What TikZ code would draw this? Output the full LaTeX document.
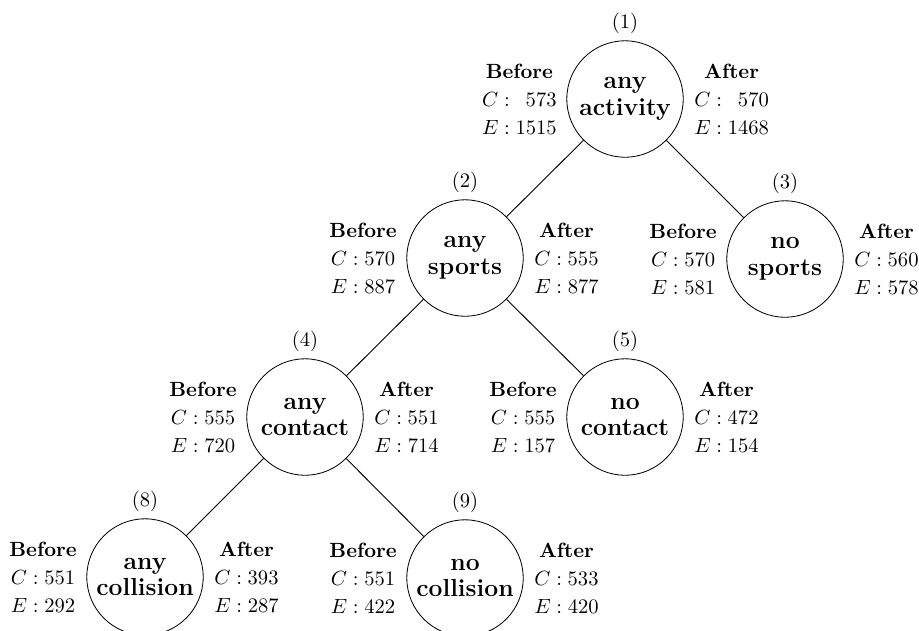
\documentclass[tikz,border=0pt]{standalone}
\begin{document}
\begin{tikzpicture}[x=0.4862pt,y=-0.4862pt,
  tnode/.style={circle,draw,minimum size=56.6pt,inner sep=0pt,align=center,
    font=\fontsize{12}{13}\selectfont\bfseries},
  numlabel/.style={anchor=south,inner sep=0pt,yshift=3pt},
  beforebox/.style={anchor=east,inner sep=0pt,align=center,
    font=\fontsize{10}{13.6}\selectfont,xshift=-4.5pt,yshift=0pt},
  afterbox/.style={anchor=west,inner sep=0pt,align=center,
    font=\fontsize{10}{13.6}\selectfont,xshift=5pt,yshift=0pt},
  treeline/.style={line width=0.45pt}]
\useasboundingbox (0,0) rectangle (919,630);

\node[tnode] (n1) at (625,99) {any\\activity};
\node[tnode] (n2) at (465,258) {any\\sports};
\node[tnode] (n3) at (785,259) {no\\sports};
\node[tnode] (n4) at (305,417) {any\\contact};
\node[tnode] (n5) at (625,417) {no\\contact};
\node[tnode] (n8) at (145,577) {any\\collision};
\node[tnode] (n9) at (465,578) {no\\collision};

\node[numlabel] (l1) at (n1.north) {(1)};
\node[numlabel] (l2) at (n2.north) {(2)};
\node[numlabel] (l3) at (n3.north) {(3)};
\node[numlabel] (l4) at (n4.north) {(4)};
\node[numlabel] (l5) at (n5.north) {(5)};
\node[numlabel] (l8) at (n8.north) {(8)};
\node[numlabel] (l9) at (n9.north) {(9)};

\node[beforebox] (b1) at (n1.west) {\textbf{Before}\\$C:\phantom{0}573$\\$E:1515$};
\node[afterbox]  (a1) at (n1.east) {\textbf{After}\\$C:\phantom{0}570$\\$E:1468$};
\node[beforebox] (b2) at (n2.west) {\textbf{Before}\\$C:570$\\$E:887$};
\node[afterbox]  (a2) at (n2.east) {\textbf{After}\\$C:555$\\$E:877$};
\node[beforebox] (b3) at (n3.west) {\textbf{Before}\\$C:570$\\$E:581$};
\node[afterbox]  (a3) at (n3.east) {\textbf{After}\\$C:560$\\$E:578$};
\node[beforebox] (b4) at (n4.west) {\textbf{Before}\\$C:555$\\$E:720$};
\node[afterbox]  (a4) at (n4.east) {\textbf{After}\\$C:551$\\$E:714$};
\node[beforebox] (b5) at (n5.west) {\textbf{Before}\\$C:555$\\$E:157$};
\node[afterbox]  (a5) at (n5.east) {\textbf{After}\\$C:472$\\$E:154$};
\node[beforebox] (b8) at (n8.west) {\textbf{Before}\\$C:551$\\$E:292$};
\node[afterbox]  (a8) at (n8.east) {\textbf{After}\\$C:393$\\$E:287$};
\node[beforebox] (b9) at (n9.west) {\textbf{Before}\\$C:551$\\$E:422$};
\node[afterbox]  (a9) at (n9.east) {\textbf{After}\\$C:533$\\$E:420$};

\draw[treeline] (n1) -- (n2);
\draw[treeline] (n1) -- (n3);
\draw[treeline] (n2) -- (n4);
\draw[treeline] (n2) -- (n5);
\draw[treeline] (n4) -- (n8);
\draw[treeline] (n4) -- (n9);
\end{tikzpicture}
\end{document}
